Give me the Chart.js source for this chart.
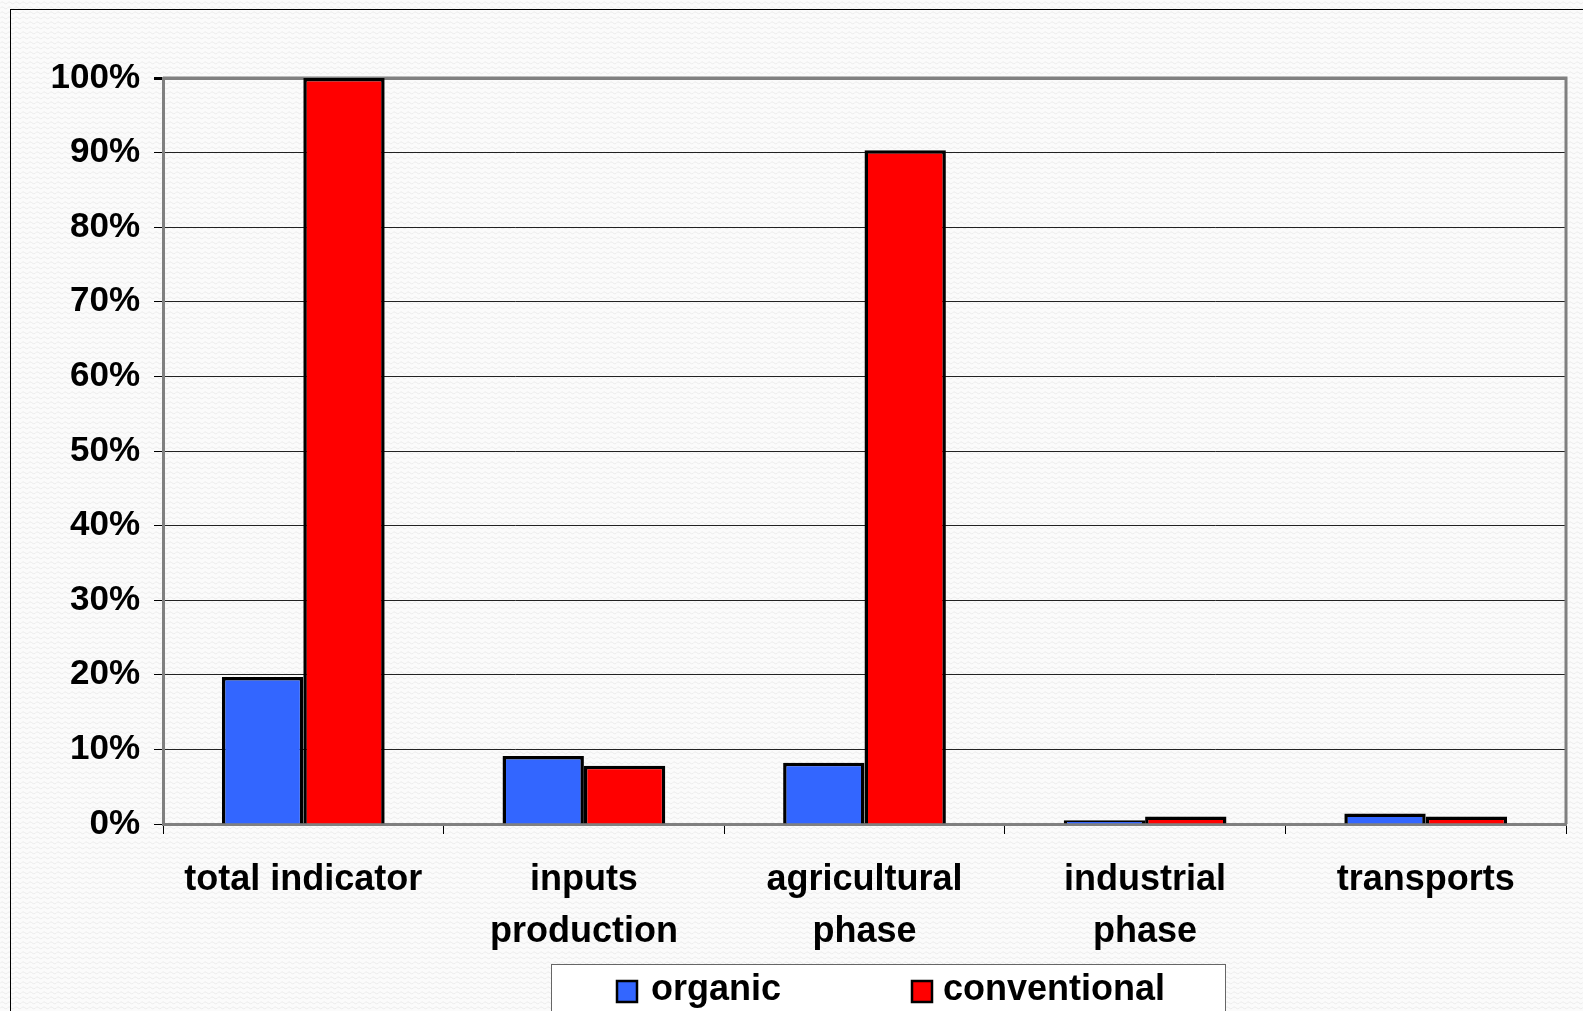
<!DOCTYPE html>
<html>
<head>
<meta charset="utf-8">
<script src="https://cdn.jsdelivr.net/npm/chart.js@4/dist/chart.umd.min.js"></script>
<style>
  html, body { margin: 0; padding: 0; background: #fafafa; overflow: hidden; }
  #wrap { position: absolute; left: 0; top: 0; width: 1583px; height: 1011px; }
</style>
</head>
<body>
<div id="wrap"><canvas id="chart" width="1583" height="1011"></canvas></div>
<script>
// Life-cycle phases compared (share of the conventional total)
const categories = [
  'total indicator',
  ['inputs', 'production'],
  ['agricultural', 'phase'],
  ['industrial', 'phase'],
  'transports'
];
const organicValues = [19.7, 9.1, 8.2, 0.5, 1.4];
const conventionalValues = [100, 7.8, 90.3, 1.0, 1.0];
const yTickValues = [0, 10, 20, 30, 40, 50, 60, 70, 80, 90, 100];

const FONT = '"Liberation Sans", Arial, sans-serif';

// faint woven background texture
function makeTexture(ctx) {
  const t = document.createElement('canvas');
  t.width = 7; t.height = 5;
  const c = t.getContext('2d');
  c.fillStyle = '#fbfbfb';
  c.fillRect(0, 0, 7, 5);
  c.strokeStyle = '#ececec';
  c.lineWidth = 1;
  c.beginPath();
  c.moveTo(0, 3.5);
  c.quadraticCurveTo(1.75, 0.5, 3.5, 2.5);
  c.quadraticCurveTo(5.25, 4.5, 7, 3.5);
  c.stroke();
  return ctx.createPattern(t, 'repeat');
}

const backdrop = {
  id: 'backdrop',
  beforeDraw(chart) {
    const ctx = chart.ctx;
    ctx.save();
    ctx.fillStyle = makeTexture(ctx);
    ctx.fillRect(0, 0, chart.width, chart.height);
    // outer chart frame
    ctx.strokeStyle = '#000';
    ctx.lineWidth = 1;
    ctx.strokeRect(10.5, 9.5, chart.width + 20, chart.height + 20);
    ctx.restore();
  }
};

// plot-area frame (top and right edges) drawn under the bars
const plotFrame = {
  id: 'plotFrame',
  beforeDatasetsDraw(chart) {
    const { left, right, top, bottom } = chart.chartArea;
    const ctx = chart.ctx;
    ctx.save();
    ctx.strokeStyle = '#808080';
    ctx.lineWidth = 3;
    ctx.beginPath();
    ctx.moveTo(left, top);
    ctx.lineTo(right, top);
    ctx.lineTo(right, bottom);
    ctx.stroke();
    ctx.restore();
  }
};

// boxed legend beneath the category labels
const boxedLegend = {
  id: 'boxedLegend',
  afterDraw(chart) {
    const ctx = chart.ctx;
    const boxX = 551, boxY = 964, boxW = 674;
    ctx.save();
    ctx.fillStyle = '#ffffff';
    ctx.fillRect(boxX, boxY, boxW, 80);
    ctx.strokeStyle = '#666';
    ctx.lineWidth = 1;
    ctx.strokeRect(boxX + 0.5, boxY + 0.5, boxW, 80);
    const itemX = [617, 912];
    ctx.font = 'bold 36px ' + FONT;
    ctx.textBaseline = 'middle';
    ctx.textAlign = 'left';
    chart.data.datasets.forEach((ds, i) => {
      const x = itemX[i];
      ctx.fillStyle = ds.backgroundColor;
      ctx.fillRect(x, 981, 20, 21);
      ctx.strokeStyle = '#000';
      ctx.lineWidth = 2.5;
      ctx.strokeRect(x, 981, 20, 21);
      ctx.fillStyle = '#000';
      ctx.fillText(ds.label, x + (i === 0 ? 34 : 31), 990);
    });
    ctx.restore();
  }
};

new Chart(document.getElementById('chart'), {
  type: 'bar',
  data: {
    labels: categories,
    datasets: [
      {
        label: 'organic',
        data: organicValues,
        backgroundColor: '#3366ff',
        borderColor: '#000',
        borderWidth: 3.5,
        borderSkipped: 'bottom'
      },
      {
        label: 'conventional',
        data: conventionalValues,
        backgroundColor: '#ff0000',
        borderColor: '#000',
        borderWidth: 3.5,
        borderSkipped: 'bottom'
      }
    ]
  },
  options: {
    responsive: false,
    animation: false,
    layout: { padding: { top: 78, right: 17, bottom: 0, left: 0 } },
    datasets: { bar: { categoryPercentage: 0.58, barPercentage: 1.0 } },
    plugins: {
      legend: { display: false },
      tooltip: { enabled: false }
    },
    scales: {
      x: {
        grid: {
          offset: true,
          drawOnChartArea: false,
          drawTicks: true,
          tickLength: 10,
          tickColor: '#000',
          lineWidth: 1
        },
        border: { color: '#808080', width: 3 },
        ticks: {
          color: '#000',
          padding: 21,
          maxRotation: 0,
          autoSkip: false,
          font: { family: FONT, size: 36, weight: 'bold', lineHeight: 1.42 }
        },
        afterFit(scale) { scale.height = 187; }
      },
      y: {
        min: 0,
        max: 100,
        afterBuildTicks(scale) { scale.ticks = yTickValues.map(v => ({ value: v })); },
        grid: {
          color: ctx => (ctx.tick && ctx.tick.value === 100) ? '#808080' : '#222',
          lineWidth: ctx => (ctx.tick && ctx.tick.value === 100) ? 3 : 1,
          tickLength: 9,
          tickColor: '#000',
          drawTicks: true
        },
        border: { color: '#808080', width: 3 },
        ticks: {
          color: '#000',
          padding: 14,
          callback: v => v + '%',
          font: { family: FONT, size: 35, weight: 'bold' }
        },
        afterFit(scale) { scale.width = 163; }
      }
    }
  },
  plugins: [backdrop, plotFrame, boxedLegend]
});
</script>
</body>
</html>
